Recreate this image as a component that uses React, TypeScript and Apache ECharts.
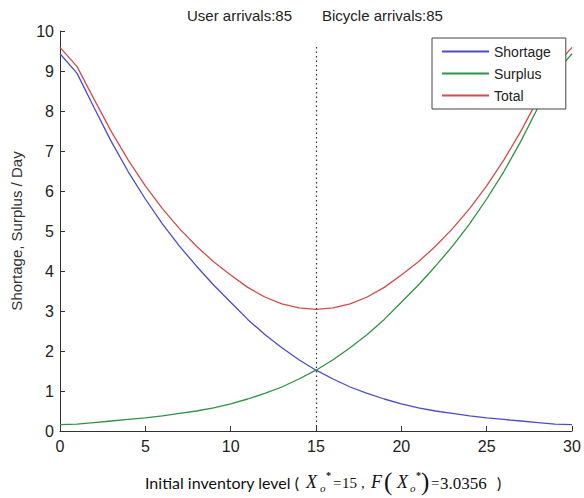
import React, { useEffect, useRef } from "react";
import * as echarts from "echarts";

const inventoryLevels = [0, 1, 2, 3, 4, 5, 6, 7, 8, 9, 10, 11, 12, 13, 14, 15, 16, 17, 18, 19, 20, 21, 22, 23, 24, 25, 26, 27, 28, 29, 30];
const shortage = [9.43, 8.94, 8.08, 7.24, 6.48, 5.8, 5.18, 4.62, 4.12, 3.65, 3.22, 2.79, 2.41, 2.08, 1.78, 1.52, 1.3, 1.1, 0.94, 0.8, 0.68, 0.58, 0.5, 0.44, 0.38, 0.33, 0.29, 0.25, 0.21, 0.17, 0.16];
const surplus = [0.16, 0.17, 0.21, 0.25, 0.29, 0.33, 0.38, 0.44, 0.5, 0.58, 0.68, 0.8, 0.94, 1.1, 1.3, 1.52, 1.78, 2.08, 2.41, 2.79, 3.22, 3.65, 4.12, 4.62, 5.18, 5.8, 6.48, 7.24, 8.08, 8.94, 9.43];
const total = [9.59, 9.11, 8.29, 7.49, 6.77, 6.13, 5.56, 5.06, 4.62, 4.23, 3.9, 3.59, 3.35, 3.18, 3.08, 3.04, 3.08, 3.18, 3.35, 3.59, 3.9, 4.23, 4.62, 5.06, 5.56, 6.13, 6.77, 7.49, 8.29, 9.11, 9.59];
const seriesNames = ["Shortage", "Surplus", "Total"];
const seriesColors = ["#4b4bd0", "#2e9444", "#d84a4a"];
const titleLeft = "User arrivals:85";
const titleRight = "Bicycle arrivals:85";
const yAxisTitle = "Shortage, Surplus / Day";
const optimalLevel = 15;
const optimalMarkerTop = 9.6;

const SANS = "'Liberation Sans', Arial, sans-serif";
const SERIF = "'Liberation Serif', 'DejaVu Serif', serif";
const LABEL_SANS = "Lato, 'Open Sans', sans-serif";

function pairs(vals: number[]) {
  return inventoryLevels.map((x, i) => [x, vals[i]]);
}

function txt(text: string, x: number, y: number, font: Record<string, any>) {
  return {
    type: "text",
    x,
    y,
    silent: true,
    style: { text, fill: "#111", align: "left", verticalAlign: "middle", ...font },
  };
}

export default function App() {
  const ref = useRef<HTMLDivElement>(null);
  useEffect(() => {
    document.body.style.margin = "0";
    const chart = echarts.init(ref.current!, null, { renderer: "svg" });
    const serifItalic = { fontFamily: SERIF, fontStyle: "italic", fontSize: 18 };
    const sub = { fontFamily: SERIF, fontStyle: "italic", fontSize: 11 };
    const star = { fontFamily: SERIF, fontSize: 10, fontWeight: "bold" };
    const serif = { fontFamily: SERIF, fontSize: 15 };
    const paren = { fontFamily: SERIF, fontSize: 25 };
    chart.setOption({
      animation: false,
      grid: { left: 60, right: 12, top: 31, bottom: 67 },
      legend: {
        data: seriesNames,
        orient: "vertical",
        left: 432,
        top: 38,
        padding: [6, 15, 6, 10],
        itemGap: 7,
        itemWidth: 47,
        itemHeight: 2,
        icon: "rect",
        backgroundColor: "#fff",
        borderColor: "#444",
        borderWidth: 1,
        borderRadius: 0,
        textStyle: { fontFamily: SANS, fontSize: 14, color: "#222", lineHeight: 15 },
      },
      xAxis: {
        type: "value",
        min: 0,
        max: 30,
        interval: 5,
        axisLine: { show: true, onZero: false, lineStyle: { color: "#333", width: 1 } },
        axisTick: { show: true, inside: true, length: 5, lineStyle: { color: "#333" } },
        axisLabel: { margin: 7, fontFamily: SANS, fontSize: 16, color: "#222" },
        splitLine: { show: false },
      },
      yAxis: {
        type: "value",
        min: 0,
        max: 10,
        interval: 1,
        name: yAxisTitle,
        nameLocation: "middle",
        nameGap: 36,
        nameTextStyle: { fontFamily: SANS, fontSize: 15, color: "#333" },
        axisLine: { show: true, lineStyle: { color: "#333", width: 1 } },
        axisTick: { show: true, inside: true, length: 5, lineStyle: { color: "#333" } },
        axisLabel: { margin: 6, fontFamily: SANS, fontSize: 16, color: "#222" },
        splitLine: { show: false },
      },
      series: [
        {
          name: seriesNames[0],
          type: "line",
          data: pairs(shortage),
          showSymbol: false,
          symbol: "none",
          color: seriesColors[0],
          lineStyle: { color: seriesColors[0], width: 1.3 },
          z: 3,
          markLine: {
            silent: true,
            symbol: "none",
            label: { show: false },
            lineStyle: { type: [1.5, 3], color: "#333", width: 1.2 },
            data: [[{ coord: [optimalLevel, 0] }, { coord: [optimalLevel, optimalMarkerTop] }]],
          },
        },
        {
          name: seriesNames[1],
          type: "line",
          data: pairs(surplus),
          showSymbol: false,
          symbol: "none",
          color: seriesColors[1],
          lineStyle: { color: seriesColors[1], width: 1.3 },
          z: 3,
        },
        {
          name: seriesNames[2],
          type: "line",
          data: pairs(total),
          showSymbol: false,
          symbol: "none",
          color: seriesColors[2],
          lineStyle: { color: seriesColors[2], width: 1.3 },
          z: 3,
        },
      ],
      graphic: [
        txt(titleLeft, 187, 15, { fontFamily: SANS, fontSize: 15, fill: "#222" }),
        txt(titleRight, 322, 15, { fontFamily: SANS, fontSize: 15, fill: "#222" }),
        txt("Initial inventory level (", 145, 482, { fontFamily: LABEL_SANS, fontSize: 16 }),
        txt("X", 306, 482, serifItalic),
        txt("o", 320, 488, sub),
        txt("*", 326, 475, star),
        txt("=", 333, 483, serif),
        txt("15", 342, 483, serif),
        txt(",", 361, 483, serif),
        txt("F", 371, 482, serifItalic),
        txt("(", 384, 481, paren),
        txt("X", 397, 482, serifItalic),
        txt("o", 410, 488, sub),
        txt("*", 416, 475, star),
        txt(")", 421, 481, paren),
        txt("=", 431, 483, serif),
        txt("3.0356", 440, 483, { fontFamily: SERIF, fontSize: 17 }),
        txt(")", 497, 482, { fontFamily: LABEL_SANS, fontSize: 16 }),
      ],
    });
    return () => chart.dispose();
  }, []);
  return <div ref={ref} style={{ width: 584, height: 498 }} />;
}
